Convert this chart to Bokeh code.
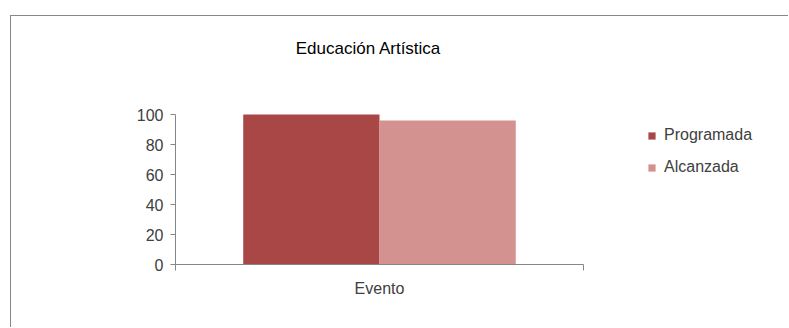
from bokeh.plotting import figure
from bokeh.models import (Range1d, FixedTicker, Legend, LegendItem, ColumnDataSource, Label)
from bokeh.transform import dodge
from bokeh.embed import file_html
from bokeh.resources import INLINE

categories = ["Evento"]
series = ["Programada", "Alcanzada"]
programada = [100]
alcanzada = [96]
y_ticks = [0, 20, 40, 60, 80, 100]
title_text = "Educación Artística"

colors = ["#A84745", "#D39190"]
FONT = "'Liberation Sans', Arial, sans-serif"

n = len(categories)
centers = [i + 0.5 for i in range(n)]
src = ColumnDataSource(dict(pos=centers, Programada=programada, Alcanzada=alcanzada))

# layout (pixels)
W, H = 778, 312
LEFT, BOTTOM = 164, 64
AXIS_W = 408                      # width of the category axis
AXIS_H = 150                      # height of the 0..100 value axis
FRAME_W = W - LEFT                # frame spans to the right edge (legend lives there)
FRAME_H = H - BOTTOM              # frame spans to the top edge (title lives there)
Y_MAX = max(y_ticks)

p = figure(width=W, height=H, output_backend="svg", toolbar_location=None,
           x_range=Range1d(0, n * FRAME_W / AXIS_W),
           y_range=Range1d(0, Y_MAX * FRAME_H / AXIS_H),
           min_border_left=LEFT, min_border_right=0, min_border_top=0,
           min_border_bottom=BOTTOM)
p.margin = (15, 0, 0, 10)
p.styles = {"border-left": "1px solid #888888", "border-top": "1px solid #888888"}
p.outline_line_color = None
p.xgrid.grid_line_color = None
p.ygrid.grid_line_color = None

offsets = [-0.167, 0.167]
renderers = []
for s, c, off in zip(series, colors, offsets):
    r = p.vbar(x=dodge("pos", off), top=s, width=0.334,
               source=src, fill_color=c, line_color=None)
    renderers.append(r)

# y axis
ya = p.yaxis[0]
ya.bounds = (0, Y_MAX)
ya.ticker = FixedTicker(ticks=y_ticks)
ya.minor_tick_line_color = None
ya.major_tick_in = 0
ya.major_tick_out = 5
ya.axis_line_color = "#868686"
ya.major_tick_line_color = "#868686"
ya.major_label_text_font = FONT
ya.major_label_text_font_size = "16px"
ya.major_label_text_color = "#404040"
ya.major_label_standoff = 7

# x axis: labels at category centres, tick marks at category boundaries
xa = p.xaxis[0]
xa.bounds = (0, n)
xa.ticker = FixedTicker(ticks=centers, minor_ticks=list(range(n + 1)))
xa.major_label_overrides = {c: name for c, name in zip(centers, categories)}
xa.major_tick_in = 0
xa.major_tick_out = 0
xa.minor_tick_in = 0
xa.minor_tick_out = 6
xa.axis_line_color = "#868686"
xa.minor_tick_line_color = "#868686"
xa.major_label_text_font = FONT
xa.major_label_text_font_size = "16px"
xa.major_label_text_color = "#404040"
xa.major_label_standoff = 9

# title, placed in the upper part of the frame
title = Label(x=n * (368 - 175 - 0) / AXIS_W, y=Y_MAX * (264 - 48) / AXIS_H,
              text=title_text, text_align="center", text_baseline="middle",
              text_font=FONT, text_font_size="17px", text_color="#000000")
p.add_layout(title)

legend = Legend(items=[LegendItem(label=s, renderers=[r]) for s, r in zip(series, renderers)],
                location=(472, 87))
legend.border_line_color = None
legend.background_fill_alpha = 0
legend.padding = 0
legend.margin = 0
legend.spacing = 12
legend.glyph_width = 9
legend.glyph_height = 9
legend.label_height = 20
legend.label_standoff = 8
legend.label_text_font = FONT
legend.label_text_font_size = "16px"
legend.label_text_color = "#404040"
p.add_layout(legend, "center")

open("out.html", "w").write(file_html(p, INLINE))
